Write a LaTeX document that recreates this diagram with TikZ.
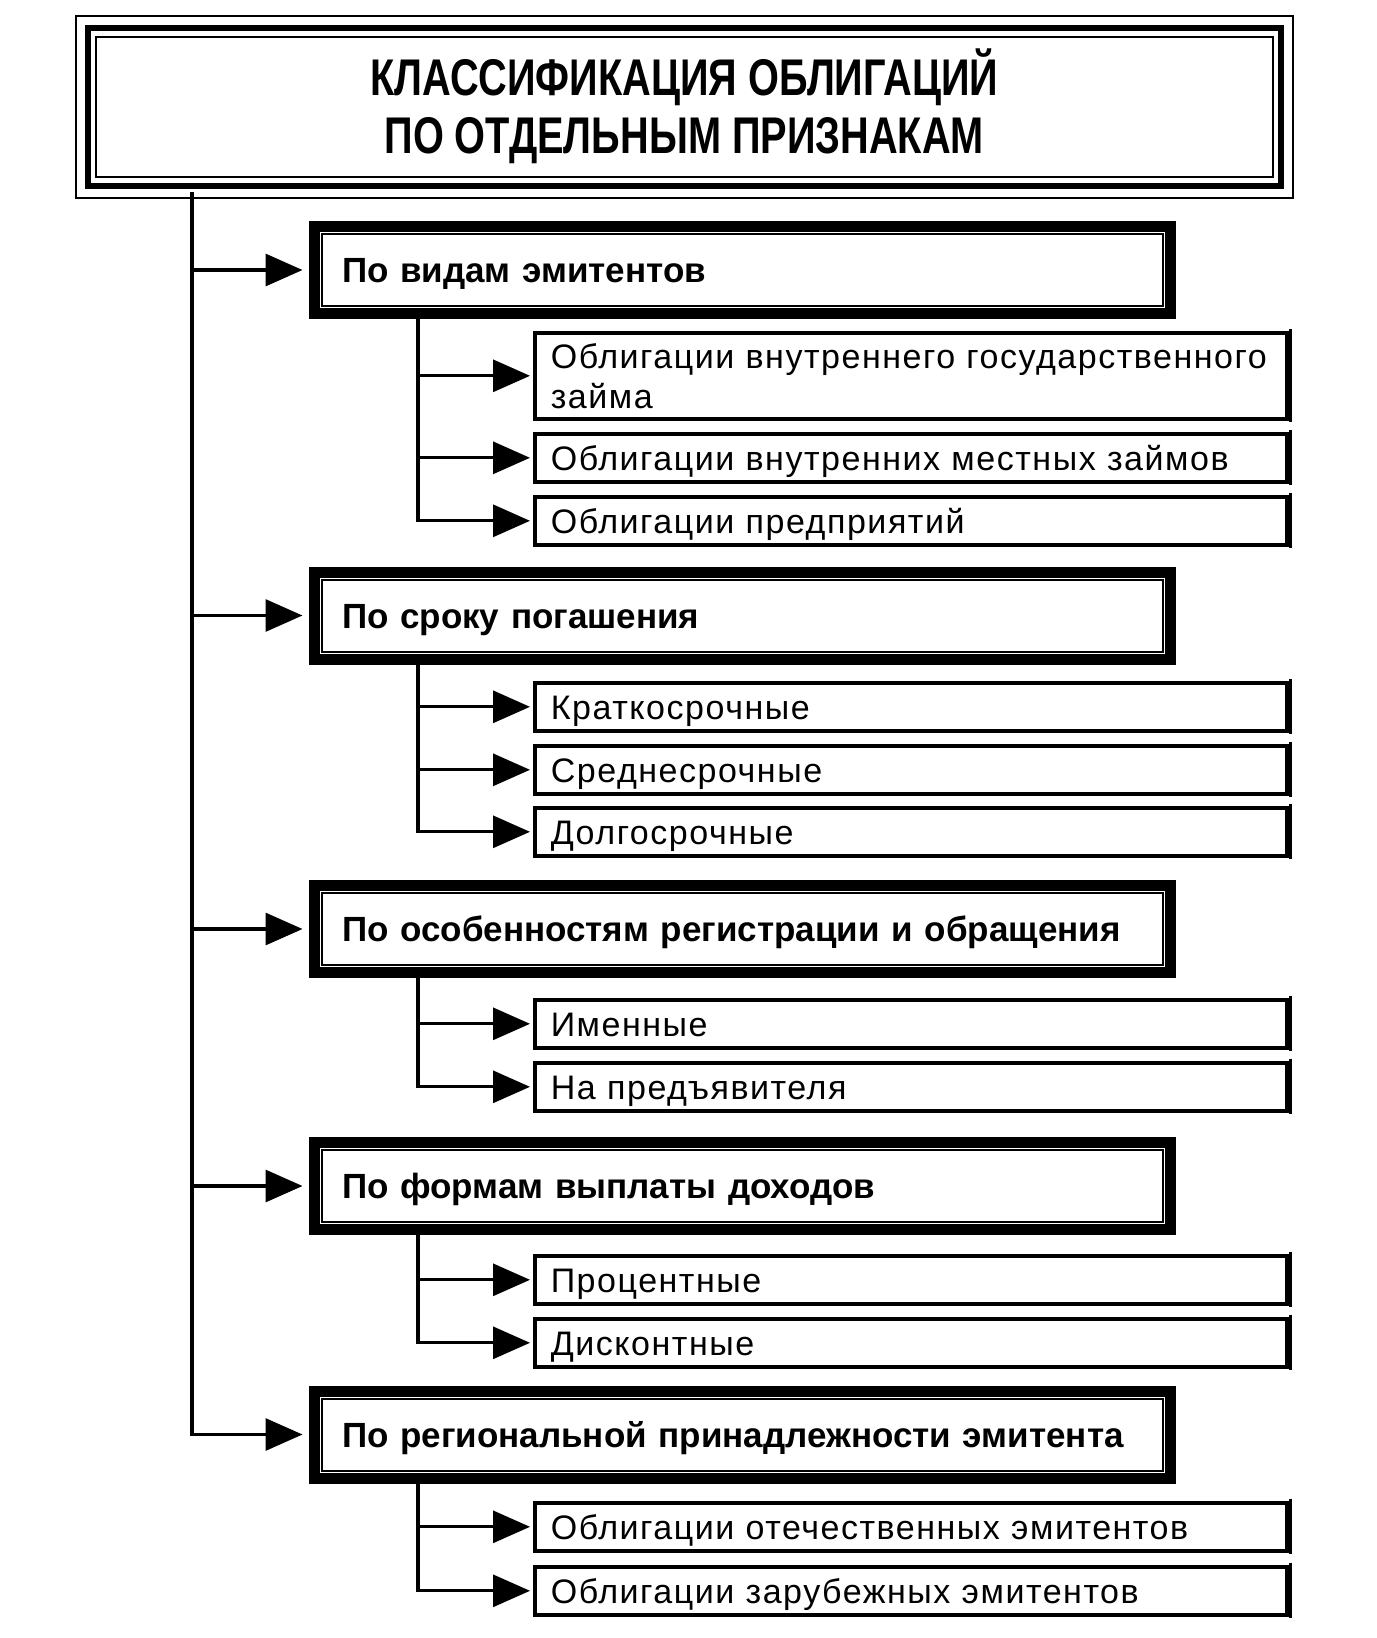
\documentclass[tikz,border=0pt]{standalone}
\usepackage{fontspec}
\setmainfont{Liberation Sans}
\newfontfamily\ttlfont[FakeStretch=0.77]{Liberation Sans}
\newfontfamily\lffont[LetterSpace=4.5]{Liberation Sans}
\usetikzlibrary{arrows.meta,calc}
\begin{document}
\begin{tikzpicture}[x=0.5pt,y=-0.5pt,
  arr/.style={line width=1.6pt,-{Triangle[length=18.5pt,width=16pt]}},
  ttl/.style={draw,line width=3pt,minimum width=596.75pt,minimum height=78.75pt,
    anchor=north west,align=center,inner sep=0pt,
    font=\ttlfont\bfseries\fontsize{25.8pt}{29pt}\selectfont},
  cat/.style={draw,line width=5.5pt,minimum width=428pt,minimum height=43.5pt,
    anchor=north west,inner xsep=12.5pt,inner ysep=0pt,text width=400pt,align=left,
    text height=12.5pt,text depth=0pt,
    font=\bfseries\fontsize{17.5pt}{20pt}\selectfont},
  leaf/.style={draw,line width=1.8pt,minimum width=376pt,minimum height=24pt,
    anchor=north west,inner xsep=7.5pt,inner ysep=0pt,text width=360pt,align=left,
    text height=12.2pt,text depth=0pt,
    font=\lffont\fontsize{17pt}{20pt}\selectfont},
  innerline/.style={line width=1pt},
  outerline/.style={line width=1pt},
  shadowedge/.style={line width=1.8pt}
]
\useasboundingbox (0,0) rectangle (1376,1638);

% title
\node[ttl] (t) at (84.5,25) {КЛАССИФИКАЦИЯ ОБЛИГАЦИЙ\\ПО ОТДЕЛЬНЫМ ПРИЗНАКАМ};
\draw[outerline] ($(t.north west)+(-9,-9)$) rectangle ($(t.south east)+(9,9)$);
\draw[innerline] ($(t.north west)+(11.5,11.5)$) rectangle ($(t.south east)+(-11.5,-11.5)$);

% categories
\node[cat] (c1) at (308.5,221) {По видам эмитентов};
\node[cat] (c2) at (308.5,566.5) {По сроку погашения};
\node[cat] (c3) at (308.5,880) {По особенностям регистрации и обращения};
\node[cat] (c4) at (308.5,1137) {По формам выплаты доходов};
\node[cat] (c5) at (308.5,1385.5) {По региональной принадлежности эмитента};
\foreach \n in {c1,c2,c3,c4,c5}
  \draw[innerline] ($(\n.north west)+(13,13)$) rectangle ($(\n.south east)+(-13,-13)$);

% leaves
\node[leaf,minimum height=43pt,text height={},text depth={}] (l1a) at (533,331) {\mbox{Облигации внутреннего государственного}\\займа};
\node[leaf] (l1b) at (533,432) {Облигации внутренних местных займов};
\node[leaf] (l1c) at (533,495) {Облигации предприятий};
\node[leaf] (l2a) at (533,681) {Краткосрочные};
\node[leaf] (l2b) at (533,744) {Среднесрочные};
\node[leaf] (l2c) at (533,806) {Долгосрочные};
\node[leaf] (l3a) at (533,998) {Именные};
\node[leaf] (l3b) at (533,1061) {На предъявителя};
\node[leaf] (l4a) at (533,1254) {Процентные};
\node[leaf] (l4b) at (533,1317) {Дисконтные};
\node[leaf] (l5a) at (533,1501) {Облигации отечественных эмитентов};
\node[leaf] (l5b) at (533,1565) {Облигации зарубежных эмитентов};
\foreach \n in {l1a,l1b,l1c,l2a,l2b,l2c,l3a,l3b,l4a,l4b,l5a,l5b}
  \draw[shadowedge] ([xshift=0.9pt,yshift=0.9pt]\n.north east) -- ([xshift=0.9pt,yshift=-0.9pt]\n.south east);

% main trunk
\coordinate (tb) at (192,192);
\draw[arr,shorten >=3pt] (tb) |- (c5.west);
\foreach \n in {c1,c2,c3,c4}
  \draw[arr,shorten >=3pt] (tb |- \n.west) -- (\n.west);

% sub trunks
\coordinate (sx) at (418,0);
\draw[arr,shorten >=1.5pt] (c1.south -| sx) |- (l1c.west);
\draw[arr,shorten >=1.5pt] (l1a.west -| sx) -- (l1a.west);
\draw[arr,shorten >=1.5pt] (l1b.west -| sx) -- (l1b.west);

\draw[arr,shorten >=1.5pt] (c2.south -| sx) |- (l2c.west);
\draw[arr,shorten >=1.5pt] (l2a.west -| sx) -- (l2a.west);
\draw[arr,shorten >=1.5pt] (l2b.west -| sx) -- (l2b.west);

\draw[arr,shorten >=1.5pt] (c3.south -| sx) |- (l3b.west);
\draw[arr,shorten >=1.5pt] (l3a.west -| sx) -- (l3a.west);

\draw[arr,shorten >=1.5pt] (c4.south -| sx) |- (l4b.west);
\draw[arr,shorten >=1.5pt] (l4a.west -| sx) -- (l4a.west);

\draw[arr,shorten >=1.5pt] (c5.south -| sx) |- (l5b.west);
\draw[arr,shorten >=1.5pt] (l5a.west -| sx) -- (l5a.west);
\end{tikzpicture}
\end{document}
